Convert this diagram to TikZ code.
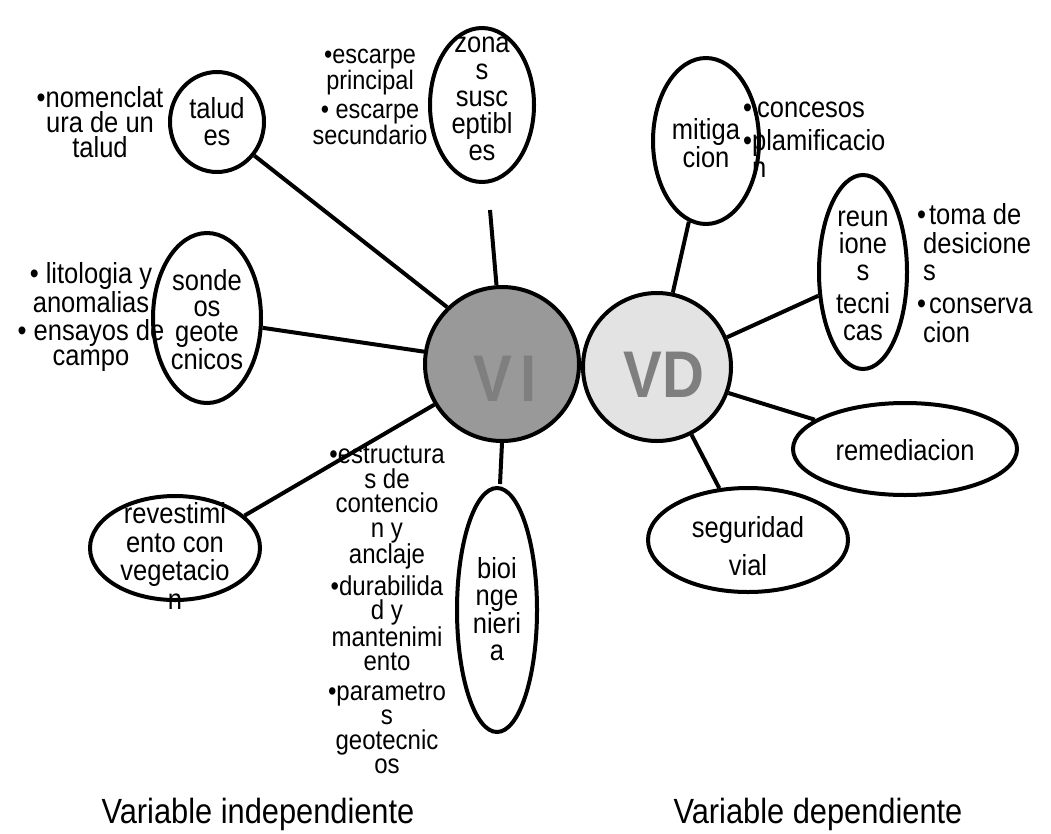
\documentclass[tikz,border=0pt]{standalone}
\usepackage{fontspec}
\setmainfont{Liberation Sans}[FakeStretch=0.88]
\usetikzlibrary{shapes.geometric}
\definecolor{vifill}{HTML}{999999}
\definecolor{vdfill}{HTML}{E3E3E3}
\definecolor{vitext}{HTML}{7F7F7F}
\begin{document}
\begin{tikzpicture}[x=1pt,y=-1pt,
  ell/.style={draw,line width=4pt,ellipse,inner sep=0pt},
  hub/.style={draw,line width=4pt,circle,inner sep=0pt},
  conn/.style={line width=4pt},
  txt/.style={align=center,inner sep=0pt,font=\fontsize{29}{27}\selectfont},
  btxt/.style={align=center,inner sep=0pt,font=\fontsize{29}{25}\selectfont},
  bigtxt/.style={inner sep=0pt,text=vitext,font=\bfseries\fontsize{66}{66}\selectfont},
  captxt/.style={inner sep=0pt,anchor=base,font=\fontsize{35}{35}\selectfont},
]
\useasboundingbox (0,0) rectangle (1051,833);

% hubs
\node[hub,fill=vifill,minimum size=154pt] (vi) at (502,364) {};
\node[hub,fill=vdfill,minimum size=148pt] (vd) at (657,367) {};
\node[bigtxt] (vit) at (505,379) {V\hspace{8pt}I};
\node[bigtxt] (vdt) at (664,375) {VD};

% satellites VI
\node[ell,minimum width=94pt,minimum height=100pt] (tal) at (217,122) {};
\node[txt] (talt) at (217,122) {talud\\es};
\node[ell,minimum width=104pt,minimum height=154pt] (zon) at (482,105) {};
\node[txt] (zont) at (482,99) {zona\\s\\susc\\eptibl\\es};
\node[ell,minimum width=108pt,minimum height=170pt] (son) at (207,318) {};
\node[txt,font=\fontsize{29}{25.5}\selectfont] (sont) at (207,320) {sonde\\os\\geote\\cnicos};
\node[ell,minimum width=170pt,minimum height=104pt] (rev) at (175,548) {};
\node[txt,font=\fontsize{29}{28.5}\selectfont] (revt) at (175,556) {revestimi\\ento con\\vegetacio\\n};
\node[ell,minimum width=80pt,minimum height=244pt] (bio) at (497,610) {};
\node[txt] (biot) at (497,609) {bioi\\nge\\nieri\\a};

% satellites VD
\node[ell,minimum width=106pt,minimum height=166pt] (mit) at (706,141) {};
\node[txt] (mitt) at (706,143) {mitiga\\cion};
\node[ell,minimum width=88pt,minimum height=194pt] (reu) at (863,272) {};
\node[txt] (reut) at (863,276) {reun\\ione\\s\\[6pt]tecni\\cas};
\node[ell,minimum width=224pt,minimum height=92pt] (rem) at (905,449) {};
\node[txt] (remt) at (905,450) {remediacion};
\node[ell,minimum width=200pt,minimum height=104pt] (seg) at (748,540) {};
\node[txt,font=\fontsize{29}{38}\selectfont] (segt) at (748,546) {seguridad\\vial};

% bullet texts
\node[btxt] (b1) at (100,122) {\textbullet nomenclat\\ura de un\\talud};
\node[btxt,font=\fontsize{26.7}{23}\selectfont] (b2) at (370,97) {\textbullet escarpe\\principal\\[6pt]\textbullet\ escarpe\\secundario};
\node[btxt] (b3) at (91,317) {\textbullet\ litologia y\\anomalias\\[3pt]\textbullet\ ensayos de\\campo};
\node[btxt,font=\fontsize{27.3}{24.5}\selectfont] (b4) at (387,610) {\textbullet estructura\\s de\\contencio\\n y\\anclaje\\[5pt]\textbullet durabilida\\d y\\mantenimi\\ento\\[5pt]\textbullet parametro\\s\\geotecnic\\os};
\node[inner sep=0pt,font=\fontsize{29}{27}\selectfont,anchor=north west] (b5) at (743,98) {\begin{tabular}{@{}l@{\hspace{5pt}}l@{}}\textbullet&concesos\\[4pt]\textbullet&\hspace{-5pt}plamificacio\\&\hspace{-5pt}n\end{tabular}};
\node[inner sep=0pt,font=\fontsize{29}{27}\selectfont,anchor=north west] (b6) at (917,203) {\begin{tabular}{@{}l@{\hspace{3pt}}l@{}}\textbullet&toma de\\&\hspace{-6pt}desicione\\&\hspace{-6pt}s\\[6pt]\textbullet&conserva\\&\hspace{-6pt}cion\end{tabular}};

% captions
\node[captxt] (cap1) at (258,823) {Variable independiente};
\node[captxt] (cap2) at (818,823) {Variable dependiente};

% connectors
\coordinate (zfree) at (490,210);
\coordinate (bfree) at (500,484);
\draw[conn] (vi.134) -- (tal.-42);
\draw[conn] (vi.94) -- (zfree);
\draw[conn] (vi.171) -- (son.-10);
\draw[conn] (vi.211) -- (rev.25);
\draw[conn] (vi.-90) -- (bfree);
\draw[conn] (vd.78) -- (mit.-102);
\draw[conn] (vd.23) -- (reu.208);
\draw[conn] (vd.-20) -- (rem.162);
\draw[conn] (vd.-63) -- (seg.119);
\end{tikzpicture}
\end{document}
